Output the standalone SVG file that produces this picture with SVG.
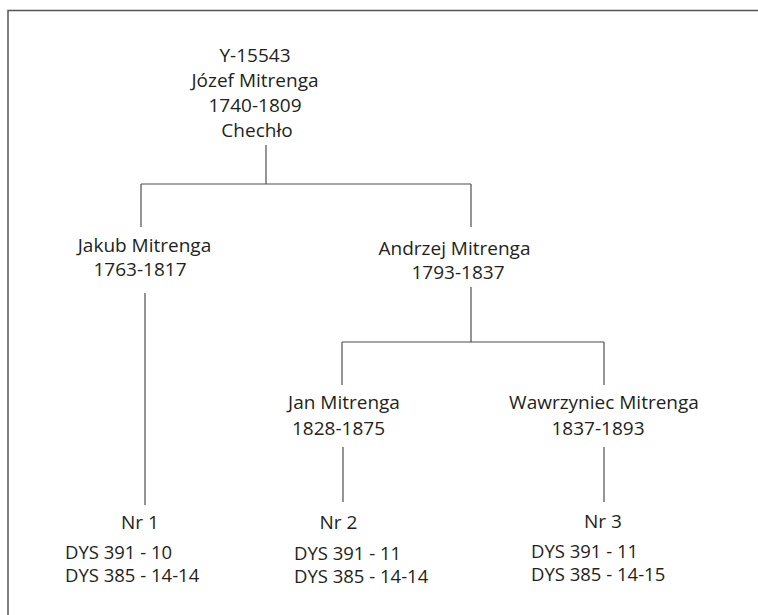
<svg xmlns="http://www.w3.org/2000/svg" width="758" height="615" viewBox="0 0 758 615">
  <style>
    text { font-family: "Open Sans", "Liberation Sans", sans-serif; font-size: 19px; fill: #231f20; }
    .c { text-anchor: middle; }
    .d { font-size: 18.5px; }
    .ln { stroke: #4d4d4d; stroke-width: 1.2; fill: none; }
    .frame { stroke: #555555; stroke-width: 1.5; fill: none; }
  </style>
  <rect x="0" y="0" width="758" height="615" fill="#ffffff"/>
  <path class="frame" d="M8,615 V10.5 H758"/>
  <g id="connectors">
    <path class="ln" d="M266,145 V184"/>
    <path class="ln" d="M141,184 H471"/>
    <path class="ln" d="M141,184 V227"/>
    <path class="ln" d="M471,184 V227"/>
    <path class="ln" d="M145,293 V505"/>
    <path class="ln" d="M471,287 V342"/>
    <path class="ln" d="M342,342 H604"/>
    <path class="ln" d="M342,342 V385"/>
    <path class="ln" d="M604,342 V385"/>
    <path class="ln" d="M343,447 V502"/>
    <path class="ln" d="M604,447 V502"/>
  </g>
  <g id="root">
    <text class="c" x="255" y="62">Y-15543</text>
    <text class="c" x="255" y="87">Józef Mitrenga</text>
    <text class="c" x="255" y="112">1740-1809</text>
    <text class="c" x="257" y="137">Chechło</text>
  </g>
  <g id="jakub">
    <text class="c" x="144.5" y="252">Jakub Mitrenga</text>
    <text class="c" x="140" y="276">1763-1817</text>
  </g>
  <g id="andrzej">
    <text class="c" x="454.5" y="255">Andrzej Mitrenga</text>
    <text class="c" x="458" y="279">1793-1837</text>
  </g>
  <g id="jan">
    <text class="c" x="344" y="409">Jan Mitrenga</text>
    <text class="c" x="338.5" y="435">1828-1875</text>
  </g>
  <g id="wawrzyniec">
    <text class="c" x="604" y="409">Wawrzyniec Mitrenga</text>
    <text class="c" x="598" y="435">1837-1893</text>
  </g>
  <g id="nr1">
    <text class="c" x="140" y="529">Nr 1</text>
    <text class="d" x="65" y="559">DYS 391 - 10</text>
    <text class="d" x="65" y="582">DYS 385 - 14-14</text>
  </g>
  <g id="nr2">
    <text class="c" x="338.5" y="529">Nr 2</text>
    <text class="d" x="294" y="560">DYS 391 - 11</text>
    <text class="d" x="294" y="583">DYS 385 - 14-14</text>
  </g>
  <g id="nr3">
    <text class="c" x="603" y="528">Nr 3</text>
    <text class="d" x="531" y="558">DYS 391 - 11</text>
    <text class="d" x="531" y="581">DYS 385 - 14-15</text>
  </g>
</svg>
